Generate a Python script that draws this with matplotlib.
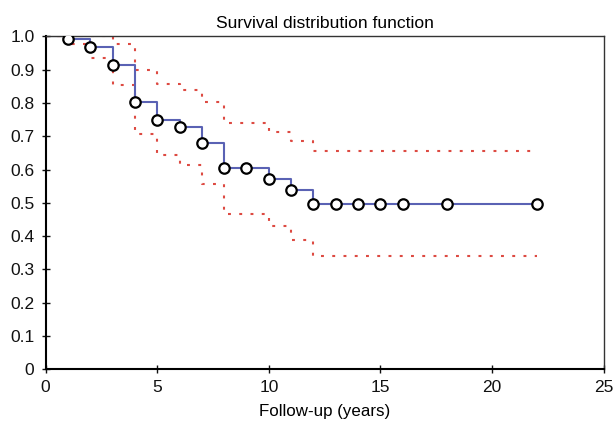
import matplotlib.pyplot as plt

plt.rcParams['font.family'] = ['Liberation Sans', 'DejaVu Sans']

# follow-up times (years) and Kaplan-Meier estimate with confidence limits
time = [0, 1, 2, 3, 4, 5, 6, 7, 8, 9, 10, 11, 12, 13, 14, 15, 16, 18, 22]
surv = [1.0, 0.992, 0.967, 0.915, 0.803, 0.750, 0.727, 0.681, 0.606, 0.606,
        0.572, 0.540, 0.497, 0.497, 0.497, 0.497, 0.497, 0.497, 0.497]
upper = [1.0, 1.0, 1.0, 0.978, 0.898, 0.857, 0.838, 0.803, 0.741, 0.741,
         0.712, 0.687, 0.656, 0.656, 0.656, 0.656, 0.656, 0.656, 0.656]
lower = [1.0, 0.978, 0.935, 0.855, 0.708, 0.645, 0.614, 0.558, 0.468, 0.468,
         0.430, 0.389, 0.340, 0.340, 0.340, 0.340, 0.340, 0.340, 0.340]

fig = plt.figure(figsize=(6.16, 4.34), dpi=100)
ax = fig.add_axes([0.074, 0.149, 0.906, 0.767])

red = '#dd4a42'
ax.plot(time, upper, drawstyle='steps-post', color=red, lw=1.5, ls=(0, (1.4, 4)))
ax.plot(time, lower, drawstyle='steps-post', color=red, lw=1.5, ls=(0, (1.4, 4)))
ax.plot(time, surv, drawstyle='steps-post', color='#5a62b4', lw=1.5)
ax.plot(time[1:], surv[1:], ls='none', marker='o', ms=7.5, mfc='white',
        mec='black', mew=1.6, zorder=5)

ax.set_xlim(0, 25)
ax.set_ylim(0, 1.0)
ax.set_xticks([0, 5, 10, 15, 20, 25])
ax.set_yticks([i / 10 for i in range(11)])
ax.set_yticklabels(['0'] + ['%.1f' % (i / 10) for i in range(1, 11)])
ax.tick_params(direction='inout', length=6, width=1.0, labelsize=12.5, colors='#111111')
ax.tick_params(axis='x', pad=5)
ax.tick_params(axis='y', pad=5)

for s in ['left', 'bottom']:
    ax.spines[s].set_linewidth(1.5)
for s in ['top', 'right']:
    ax.spines[s].set_linewidth(1.0)
    ax.spines[s].set_color('#333333')

ax.set_title('Survival distribution function', fontsize=12.6, pad=6)
ax.set_xlabel('Follow-up (years)', fontsize=12.2, labelpad=6)

fig.savefig('out.png', dpi=100)
